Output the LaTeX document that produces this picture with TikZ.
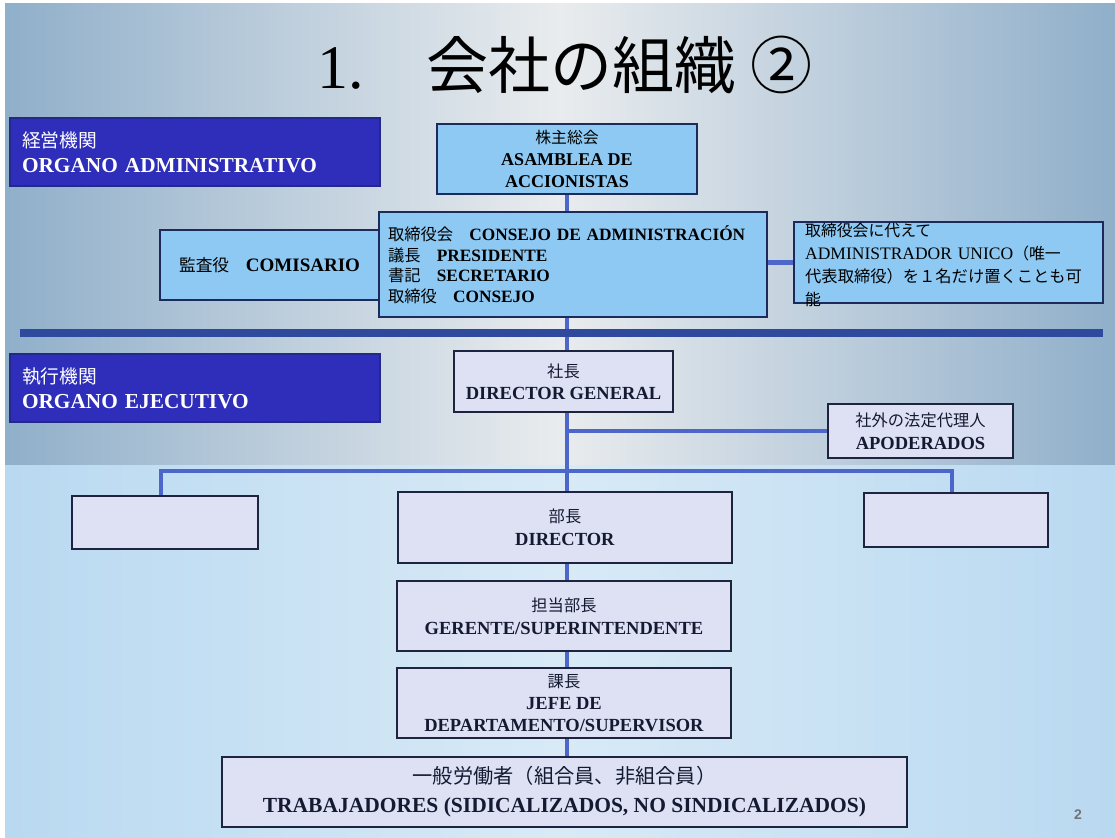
\documentclass[tikz,border=0pt]{standalone}
\usepackage{fontspec}
\setmainfont{Liberation Serif}
\setsansfont{Liberation Sans}
\newfontfamily\jp{Noto Sans CJK JP}[Scale=0.88]
\newfontfamily\jptitle{Noto Sans CJK JP}
\newcommand\fsz[2]{\fontsize{#1}{#2}\selectfont}
\definecolor{labF}{HTML}{2E2EBA}
\definecolor{labB}{HTML}{23298A}
\definecolor{lbF}{HTML}{8DC9F2}
\definecolor{lbB}{HTML}{1C2A5C}
\definecolor{lvF}{HTML}{DDE1F3}
\definecolor{lvB}{HTML}{1E2440}
\definecolor{cn}{HTML}{4D66C9}
\definecolor{sepc}{HTML}{2F4A9D}
\definecolor{bgA}{HTML}{90AFCA}
\definecolor{bgB}{HTML}{E9ECEE}
\definecolor{bgC}{HTML}{B9D9F1}
\definecolor{bgD}{HTML}{D8EAF6}
\definecolor{txt}{HTML}{151A33}
\pgfdeclarelayer{bg}
\pgfdeclarelayer{lines}
\pgfsetlayers{bg,lines,main}
\begin{document}
\begin{tikzpicture}[x=1pt,y=-1pt,
  lab/.style={draw=labB, line width=1.5pt, fill=labF, text=white, minimum width=370pt, minimum height=68pt,
    text width=346pt, inner xsep=12pt, align=left, font=\fsz{21.3}{25}},
  lbox/.style={draw=lbB, line width=1.5pt, fill=lbF, text=black, align=center},
  vbox/.style={draw=lvB, line width=1.5pt, fill=lvF, text=txt, align=center, font=\fsz{18.5}{22.5}},
  conn/.style={draw=cn, line width=4.5pt}
]
\useasboundingbox (0,0) rectangle (1115,837);
\begin{pgfonlayer}{bg}
\fill[white] (0,0) rectangle (1115,837);
\shade[left color=bgA, right color=bgA, middle color=bgB] (5,4) rectangle (1115,465);
\shade[left color=bgC, right color=bgC, middle color=bgD] (5,465) rectangle (1115,837);
\end{pgfonlayer}

% title
\node (title) at (565,65) {\fsz{62}{62}1.{\jptitle　会社の組織 ②}};

% administrative section
\node[lab] (adm) at (195,152) {{\jp 経営機関}\\\textbf{ORGANO ADMINISTRATIVO}};
\node[lbox, minimum width=260pt, minimum height=70pt, font=\fsz{18}{22}] (asam) at (567,159)
  {{\jp 株主総会}\\\textbf{ASAMBLEA DE}\\\textbf{ACCIONISTAS}};
\node[lbox, minimum width=388pt, minimum height=105pt, text width=370pt, inner xsep=9pt, align=left,
  font=\fsz{17.3}{20.5}] (cons) at (573,264.5)
  {{\jp\fsz{18.5}{20.5}取締役会　}\textbf{CONSEJO DE ADMINISTRACIÓN}\\
   {\jp\fsz{18.5}{20.5}議長　}\textbf{PRESIDENTE}\\
   {\jp\fsz{18.5}{20.5}書記　}\textbf{SECRETARIO}\\
   {\jp\fsz{18.5}{20.5}取締役　}\textbf{CONSEJO}};
\node[lbox, minimum width=219pt, minimum height=70pt, font=\fsz{19}{22}] (comis) at (269.5,265)
  {{\jp 監査役　}\textbf{COMISARIO}};
\node[lbox, minimum width=309pt, minimum height=81pt] (unico) at (948.5,262.5) {};
\node[anchor=west, inner sep=0pt, text width=298pt, align=left, font=\fsz{17.5}{23.3}] (unicot) at (805,265)
  {{\jp\fsz{18}{23.3}取締役会に代えて}\\
   ADMINISTRADOR UNICO{\jp\fsz{18}{23.3}（唯一}\\
   {\jp\fsz{18.5}{23.3}代表取締役）を１名だけ置くことも可}\\
   {\jp\fsz{18}{23.3}能}};

% separator
\fill[sepc] (20,329) rectangle (1103,337);

% executive section
\node[lab] (ejec) at (195,388) {{\jp 執行機関}\\\textbf{ORGANO EJECUTIVO}};
\node[vbox, minimum width=219pt, minimum height=61pt] (gen) at (563.5,381.5)
  {{\jp 社長}\\\textbf{DIRECTOR GENERAL}};
\node[vbox, minimum width=185pt, minimum height=54pt] (apod) at (920.5,431)
  {{\jp 社外の法定代理人}\\\textbf{APODERADOS}};
\node[vbox, minimum width=186pt, minimum height=53pt] (leftE) at (165,522.5) {};
\node[vbox, minimum width=184pt, minimum height=54pt] (rightE) at (956,520) {};
\node[vbox, minimum width=334pt, minimum height=71pt] (dir) at (565,527.5)
  {{\jp 部長}\\\textbf{DIRECTOR}};
\node[vbox, minimum width=334pt, minimum height=70pt] (ger) at (564,616)
  {{\jp 担当部長}\\\textbf{GERENTE/SUPERINTENDENTE}};
\node[vbox, minimum width=334pt, minimum height=70pt, font=\fsz{18.5}{22}] (jefe) at (564,703)
  {{\jp 課長}\\\textbf{JEFE DE}\\\textbf{DEPARTAMENTO/SUPERVISOR}};
\node[vbox, minimum width=685pt, minimum height=70pt, font=\fsz{21.5}{29}] (trab) at (564.5,792)
  {{\jp\fsz{23}{29}一般労働者（組合員、非組合員）}\\\textbf{TRABAJADORES (SIDICALIZADOS, NO SINDICALIZADOS)}};

\node[text=gray!90!black, font=\sffamily\bfseries\fsz{14}{14}] (pg) at (1078,815) {2};

% connectors
\coordinate (spine) at (567,0);
\coordinate (br) at (567,471);
\begin{pgfonlayer}{lines}
\draw[conn] (asam.south) -- (asam.south |- cons.north);
\draw[conn] (spine |- cons.south) -- (spine |- gen.north);
\draw[conn] (spine |- gen.south) -- (spine |- dir.north);
\draw[conn] (cons.east |- unico.west) -- (unico.west);
\draw[conn, line width=4pt] (spine |- apod.west) -- (apod.west);
\draw[conn] ([xshift=-4pt]leftE.north) -- ([xshift=-4pt]leftE.north |- br) -- ([xshift=-4pt]rightE.north |- br) -- ([xshift=-4pt]rightE.north);
\draw[conn] (spine |- dir.south) -- (spine |- ger.north);
\draw[conn] (spine |- ger.south) -- (spine |- jefe.north);
\draw[conn] (spine |- jefe.south) -- (spine |- trab.north);
\end{pgfonlayer}
\end{tikzpicture}
\end{document}
